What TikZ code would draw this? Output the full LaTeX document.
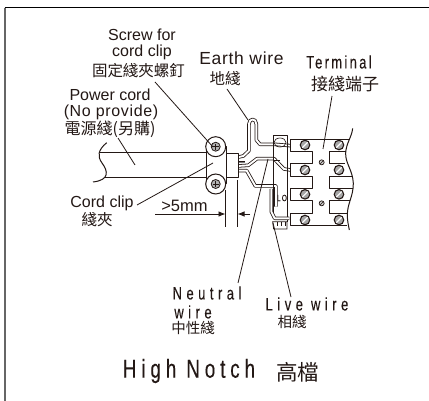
\documentclass[tikz,border=0pt]{standalone}
\usepackage{fontspec}
\usetikzlibrary{arrows.meta,calc}
\setmainfont{Liberation Sans}
\newfontfamily\cjkf{Noto Sans CJK TC}
\newfontfamily\spacedf[LetterSpace=4]{Liberation Sans}
\newfontfamily\narrowA[FakeStretch=0.72,LetterSpace=13,FakeBold=0.1]{Liberation Sans}
\newfontfamily\narrowB[FakeStretch=0.72,LetterSpace=25,FakeBold=0.1]{Liberation Sans}
\newfontfamily\narrowC[FakeStretch=0.72,LetterSpace=19,FakeBold=0.15]{Liberation Sans}
\definecolor{ink}{HTML}{231815}
\tikzset{
  lab/.style={inner sep=0pt,text=ink,font=\fontsize{16}{16}\selectfont,anchor=center},
  cjk/.style={inner sep=0pt,text=ink,font=\fontsize{15.5}{16}\cjkf,anchor=center},
  nar/.style={inner sep=0pt,text=ink,font=\fontsize{18}{16}\narrowB,anchor=center},
  leader/.style={draw=ink,line width=0.8pt},
  outl/.style={draw=ink,line width=1pt,line join=round},
  wire/.style={draw=ink,line width=0.8pt,double=white,double distance=1.9pt,line join=round},
  bscrew/.style={circle,draw=ink,line width=1.1pt,fill=gray!70,minimum size=9.5pt,inner sep=0pt},
  sscrew/.style={circle,draw=ink,line width=0.7pt,fill=gray!40,minimum size=5pt,inner sep=0pt}
}
\begin{document}
\begin{tikzpicture}[x=1pt,y=-1pt]
\useasboundingbox (0,0) rectangle (429,401);
\fill[white] (0,0) rectangle (429,401);
% frame
\draw[draw=gray!80!black,line width=1.6pt] (5,8) -- (5,401);
\draw[draw=black,line width=1pt] (4.5,8) -- (429,8);

% power cord
\draw[outl] (99,153) -- (206,153);
\draw[outl] (105,178) -- (206,178);
\draw[outl] (106.7,142.7) .. controls (98,150) and (97,156) .. (102,163) .. controls (108,171) and (110,180) .. (93,182);

% wires
\begin{scope}[shift={(180,90)},scale=0.3333]
\draw[draw=ink,line width=1.4pt] (172,214) -- (195,214);
\draw[draw=gray,line width=1.2pt] (172,218) -- (195,218);
\draw[wire] (172,242) -- (200,242) -- (226,288) -- (288,288) -- (288,350);
\draw[wire] (172,228) -- (205,226) -- (231,206) -- (282,206) -- (312,237) -- (332,240);
\draw[wire] (172,202) -- (190,198) -- (207,182) -- (207,102) .. controls (207,84) and (229,84) .. (229,102) -- (229,150) -- (240,163) -- (285,163) -- (332,167);
\end{scope}

% bracket
\draw[outl] (273,219) -- (273,136) -- (287,136) -- (287,222);
\draw[draw=ink,line width=0.5pt] (273,160) -- (280,160);
\draw[draw=ink,line width=0.6pt] (280,142.5) ellipse[x radius=6pt,y radius=4.5pt];
\begin{scope}[shift={(232,165)},scale=0.3333]
\draw[wire] (118,72) -- (118,140) -- (128,160) -- (172,160);
\draw[draw=ink,line width=0.8pt] (122,170) -- (165,170) -- (165,192) -- (125,192) -- cycle;
\foreach \t in {135,148,160}{\draw[draw=ink,line width=0.6pt] (\t,172) -- (\t,183);}
\end{scope}

% terminal block
\begin{scope}[shift={(270,100)},scale=0.3333]
\fill[white] (62,118) rectangle (232,378);
\draw[outl] (240,118) -- (62,118) -- (62,155) -- (128,155) -- (128,192) -- (62,192) -- (62,230) -- (128,230) -- (128,265) -- (62,265) -- (62,302) -- (128,302) -- (128,340) -- (62,340) -- (62,378) -- (232,378);
\draw[outl] (228,155) -- (180,155) -- (180,192) -- (226,192);
\draw[outl] (248,230) -- (180,230) -- (180,265) -- (250,265);
\draw[outl] (240,302) -- (180,302) -- (180,340) -- (233,340);
\draw[outl] (248,85) .. controls (246,110) and (228,130) .. (227,160) .. controls (226,190) and (248,210) .. (250,250) .. controls (250,290) and (232,310) .. (232,345) .. controls (232,365) and (236,378) .. (238,390);
\foreach \p/\n in {105/a,207/b}{
  \foreach \q/\m in {135/1,210/2,283/3,360/4}{
    \node[bscrew] (s\n\m) at (\p,\q) {};
    \draw[draw=white,line width=1.1pt] (\p-8,\q+8) -- (\p+8,\q-8);
  }
}
\foreach \q/\m in {187/1,310/2}{
  \node[sscrew] (c\m) at (155,\q) {};
  \draw[draw=ink,line width=0.4pt] (150,\q+5) -- (160,\q-5);
}
\end{scope}

% clip
\draw[outl,fill=white] (226,153.3) rectangle (238,177.7);
\draw[outl,fill=white] (206,147) rectangle (226,184);
\node[circle,draw=ink,fill=white,line width=1pt,minimum size=20pt,inner sep=0pt] (clipT) at (215.7,146.7) {};
\node[circle,draw=ink,fill=white,line width=1pt,minimum size=20pt,inner sep=0pt] (clipB) at (215.7,184) {};
\foreach \n in {clipT,clipB}{
  \node[circle,draw=ink,fill=gray!60,line width=0.8pt,minimum size=9pt,inner sep=0pt] (\n s) at (\n) {};
  \draw[draw=ink,line width=0.7pt] ($(\n)+(-3,0)$) -- ($(\n)+(3,0)$);
  \draw[draw=ink,line width=0.7pt] ($(\n)+(0,-3)$) -- ($(\n)+(0,3)$);
}

% labels
\node[lab] (screwA) at (142,35) {Screw for};
\node[lab] (screwB) at (142,52) {cord clip};
\node[cjk] (screwC) at (138.5,71) {固定綫夾螺釘};
\node[lab,font=\fontsize{17.5}{17}\spacedf] (earth) at (241.5,58) {Earth wire};
\node[cjk] (earthC) at (225,79) {地綫};
\node[lab,font=\fontsize{18}{16}\narrowA] (term) at (339,62) {Terminal};
\node[cjk,font=\fontsize{17}{17}\cjkf] (termC) at (345,84) {接綫端子};
\node[lab] (pc) at (110,94.5) {Power cord};
\node[lab,font=\fontsize{16}{16}\spacedf] (np) at (111,112) {(No provide)};
\node[cjk,font=\fontsize{16}{16}\cjkf] (pcC) at (110,129) {電源綫(另購)};
\node[lab] (clipL) at (102,203) {Cord clip};
\node[cjk] (clipC) at (97,220) {綫夾};
\node[lab,font=\fontsize{16.5}{16}\selectfont] (five) at (184.5,206) {>5mm};
\node[nar] (neu) at (207,293) {Neutral};
\node[nar] (wi) at (193,312) {wire};
\node[cjk,font=\fontsize{14.5}{15}\cjkf] (neuC) at (193,328) {中性綫};
\node[nar] (live) at (307,304) {Live wire};
\node[cjk,font=\fontsize{14.5}{15}\cjkf] (liveC) at (292,322) {相綫};
\node[inner sep=0pt,text=ink,font=\fontsize{26}{26}\narrowC,anchor=center] (high) at (189,371) {High Notch};
\node[inner sep=0pt,text=ink,font=\fontsize{21.5}{22}\cjkf,anchor=center] (highC) at (297.5,372) {高檔};
\node[inner sep=0pt,text=ink,font=\fontsize{9}{9}\narrowA,anchor=center] (lo) at (282,198) {LO};

% leaders
\coordinate (l1a) at (155,82); \coordinate (l1b) at (213,147);
\coordinate (l2a) at (227,89); \coordinate (l2b) at (248,120);
\coordinate (l3a) at (332,96); \coordinate (l3b) at (323,149);
\coordinate (l4a) at (118,138); \coordinate (l4b) at (135,165);
\coordinate (l5a) at (137,205); \coordinate (l5b) at (213,163);
\coordinate (l6a) at (238,283); \coordinate (l6b) at (268,159);
\coordinate (l7a) at (291,297); \coordinate (l7b) at (273,223);
\draw[leader] (l1a) -- (l1b);
\draw[leader] (l2a) -- (l2b);
\draw[leader] (l3a) -- (l3b);
\draw[leader] (l4a) -- (l4b);
\draw[leader] (l5a) -- (l5b);
\draw[leader] (l6a) -- (l6b);
\draw[leader] (l7a) -- (l7b);

% dimension
\coordinate (d1) at (155,214); \coordinate (d2) at (225.5,214);
\coordinate (d3) at (250,214); \coordinate (d4) at (237.5,214);
\draw[leader] (225.5,190) -- (225.5,227);
\draw[leader] (237.5,180) -- (237.5,227);
\draw[leader,-{Latex[length=7pt,width=5.5pt]}] (d1) -- (d2);
\draw[leader,-{Latex[length=7pt,width=5.5pt]}] (d3) -- (d4);
\end{tikzpicture}
\end{document}
